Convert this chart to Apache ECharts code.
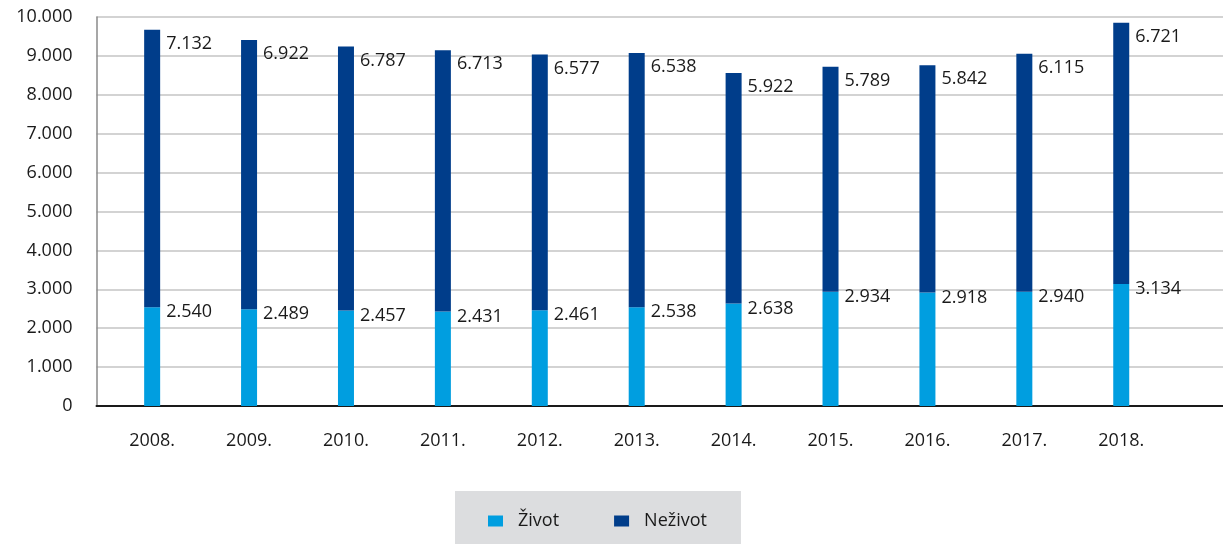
<!DOCTYPE html>
<html>
<head>
<meta charset="utf-8">
<script src="https://cdn.jsdelivr.net/npm/echarts@6/dist/echarts.min.js"></script>
<style>
  html, body { margin: 0; padding: 0; background: #fff; }
  #chart { width: 1223px; height: 544px; }
</style>
</head>
<body>
<div id="chart"></div>
<script>
// godine i iznosi (čitano s grafikona)
const years = ['2008.', '2009.', '2010.', '2011.', '2012.', '2013.', '2014.', '2015.', '2016.', '2017.', '2018.']
const zivot = [2540, 2489, 2457, 2431, 2461, 2538, 2638, 2934, 2918, 2940, 3134]
const nezivot = [7132, 6922, 6787, 6713, 6577, 6538, 5922, 5789, 5842, 6115, 6721]
const yMin = 0
const yMax = 10000
const yStep = 1000

const font = '"Open Sans", "Noto Sans", sans-serif'
const fmt = v => String(v).replace(/\B(?=(\d{3})+(?!\d))/g, '.')

const chart = echarts.init(document.getElementById('chart'))

const barLabel = dy => ({
  show: true,
  position: ['100%', 0],
  align: 'left',
  verticalAlign: 'middle',
  offset: [6, dy],
  fontSize: 18,
  color: '#1a1a1a',
  formatter: p => fmt(p.value)
})

chart.setOption({
  animation: false,
  textStyle: { fontFamily: font },
  legend: {
    left: 455,
    top: 491,
    padding: [21, 34, 21, 33],
    backgroundColor: '#dcdddf',
    icon: 'rect',
    itemWidth: 15,
    itemHeight: 11,
    itemGap: 55,
    textStyle: { fontSize: 18, color: '#1a1a1a', fontFamily: font, padding: [0, 0, 0, 10] },
    data: ['Život', 'Neživot']
  },
  // grid 0: mreža i os, grid 1: stupci
  grid: [
    { left: 96.5, right: 0, top: 17, bottom: 138 },
    { left: 103.7, right: 53.3, top: 17, bottom: 138 }
  ],
  xAxis: [{
    gridIndex: 0,
    type: 'value',
    min: 0,
    max: 1,
    splitLine: { show: false },
    axisTick: { show: false },
    axisLabel: { show: false },
    axisLine: { show: true, onZero: false, lineStyle: { color: '#1a1a1a', width: 2 } }
  }, {
    gridIndex: 1,
    type: 'category',
    data: years,
    axisLine: { show: false },
    axisTick: { show: false },
    axisLabel: { fontSize: 18, color: '#1a1a1a', margin: 26 }
  }],
  yAxis: [{
    gridIndex: 0,
    type: 'value',
    min: yMin,
    max: yMax,
    interval: yStep,
    axisLine: { show: true, onZero: false, lineStyle: { color: '#8a8a8a', width: 1.5 } },
    axisTick: { show: false },
    splitLine: { lineStyle: { color: '#c4c4c4', width: 1.5 } },
    axisLabel: { formatter: fmt, fontSize: 18, color: '#1a1a1a', margin: 24 }
  }, {
    gridIndex: 1,
    type: 'value',
    min: yMin,
    max: yMax,
    interval: yStep,
    show: false
  }],
  series: [{
    name: 'Život',
    type: 'bar',
    xAxisIndex: 1,
    yAxisIndex: 1,
    stack: 'ukupno',
    barWidth: 16,
    data: zivot,
    itemStyle: { color: '#009ee0' },
    label: barLabel(5)
  }, {
    name: 'Neživot',
    type: 'bar',
    xAxisIndex: 1,
    yAxisIndex: 1,
    stack: 'ukupno',
    barWidth: 16,
    data: nezivot,
    itemStyle: { color: '#003d8a' },
    label: barLabel(14)
  }]
})
</script>
</body>
</html>
